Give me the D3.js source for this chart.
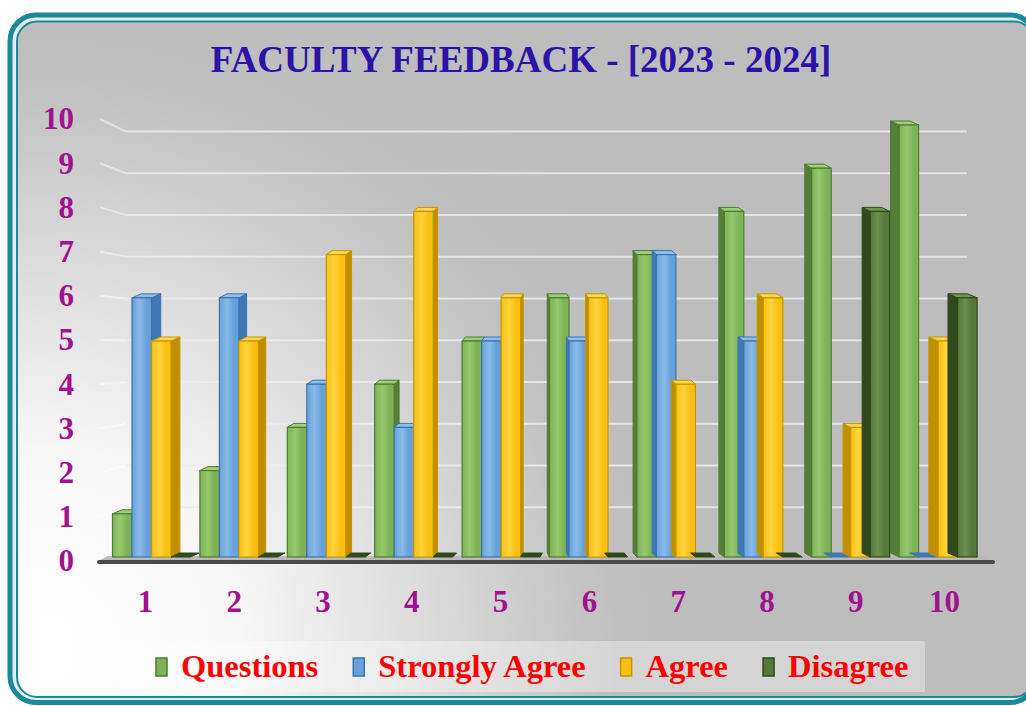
<!DOCTYPE html>
<html>
<head>
<meta charset="utf-8">
<script src="https://cdn.jsdelivr.net/npm/d3@7"></script>
<style>
  body { margin: 0; background: #ffffff; }
  svg { display: block; }
  .aText { font-family: "Liberation Serif", "Times New Roman", serif; font-weight: bold; }
</style>
</head>
<body>
<div id="chart"></div>
<script>
// chart data
var categories = ["1", "2", "3", "4", "5", "6", "7", "8", "9", "10"];
var seriesNames = ["Questions", "Strongly Agree", "Agree", "Disagree"];
var questions = [1, 2, 3, 4, 5, 6, 7, 8, 9, 10];
var stronglyAgree = [6, 6, 4, 3, 5, 5, 7, 5, 0, 0];
var agree = [5, 5, 7, 8, 6, 6, 4, 6, 3, 5];
var disagree = [0, 0, 0, 0, 0, 0, 0, 0, 8, 6];
var yTicks = [0, 1, 2, 3, 4, 5, 6, 7, 8, 9, 10];

var seriesValues = [questions, stronglyAgree, agree, disagree];

// colours per series: front, light, side, top, stroke
var colors = [
  { front: "#7db356", light: "#97c96f", side: "#557f38", top: "#9fcf78", stroke: "#4f7a32" },
  { front: "#66a1da", light: "#8abbe8", side: "#3f78b5", top: "#90bfea", stroke: "#3a73b0" },
  { front: "#f8c012", light: "#ffd43d", side: "#c08e00", top: "#ffd650", stroke: "#c39700" },
  { front: "#56793a", light: "#6a8e4c", side: "#30491d", top: "#6f9450", stroke: "#2e471c" }
];

var width = 1026;
var height = 706;

var svg = d3
  .select("#chart")
  .append("svg")
  .attr("width", width)
  .attr("height", height);

var defs = svg.append("defs");

// background gradient, white in the lower left
var bg = defs.append("radialGradient")
  .attr("id", "bg")
  .attr("gradientUnits", "userSpaceOnUse")
  .attr("cx", 40).attr("cy", 650).attr("r", 720);
bg.append("stop").attr("offset", 0).attr("stop-color", "#ffffff");
bg.append("stop").attr("offset", 0.28).attr("stop-color", "#f7f7f7");
bg.append("stop").attr("offset", 0.8).attr("stop-color", "#bfbfbf");
bg.append("stop").attr("offset", 1).attr("stop-color", "#bdbdbd");

// front face gradients
colors.forEach(function(c, i) {
  var g = defs.append("linearGradient")
    .attr("id", "front" + i)
    .attr("x1", 0).attr("x2", 1).attr("y1", 0).attr("y2", 0);
  g.append("stop").attr("offset", 0).attr("stop-color", c.front);
  g.append("stop").attr("offset", 0.4).attr("stop-color", c.light);
  g.append("stop").attr("offset", 0.75).attr("stop-color", c.front);
  g.append("stop").attr("offset", 1).attr("stop-color", c.front);
});

// frame, its right side runs past the picture edge
svg.append("rect")
  .attr("x", 10).attr("y", 15)
  .attr("width", 1026).attr("height", 687.5)
  .attr("rx", 26)
  .attr("fill", "#e4eef0")
  .attr("stroke", "#1a8a9b")
  .attr("stroke-width", 5);

svg.append("rect")
  .attr("x", 17).attr("y", 21.5)
  .attr("width", 1017).attr("height", 675.5)
  .attr("rx", 20)
  .attr("fill", "url(#bg)")
  .attr("stroke", "#1a8a9b")
  .attr("stroke-width", 2);

// title
svg.append("text")
  .attr("class", "aText")
  .attr("x", 521)
  .attr("y", 72)
  .attr("text-anchor", "middle")
  .attr("font-size", 37)
  .attr("fill", "#2c12a6")
  .text("FACULTY FEEDBACK - [2023 - 2024]");

// scales
var xBars = d3.scaleBand().domain(categories).range([107.8, 981.8]);
var xSub = d3.scaleBand().domain(seriesNames).range([-39, 39]);
var xLabels = d3.scalePoint().domain(categories).range([145, 944]);

var yBar = d3.scaleLinear().domain([0, 10]).range([557, 125]);
var yBack = d3.scaleLinear().domain([0, 10]).range([549, 131.5]);
var yLabel = d3.scaleLinear().domain([0, 10]).range([561, 119]);

var wallLeft = 100;
var backLeft = 126;
var backRight = 967;
var floorRight = 993;
var centerX = (xBars.range()[0] + xBars.range()[1]) / 2;

// gridlines on the back wall and side wall
var grid = svg.append("g").attr("class", "grid");
grid.selectAll("line.side")
  .data(yTicks.slice(1))
  .enter()
  .append("line")
  .attr("class", "side")
  .attr("x1", wallLeft).attr("y1", function(d) { return yLabel(d); })
  .attr("x2", backLeft).attr("y2", function(d) { return yBack(d); })
  .attr("stroke", "#ffffff")
  .attr("stroke-opacity", 0.45)
  .attr("stroke-width", 2);

grid.selectAll("line.back")
  .data(yTicks.slice(1))
  .enter()
  .append("line")
  .attr("class", "back")
  .attr("x1", backLeft).attr("y1", function(d) { return yBack(d); })
  .attr("x2", backRight).attr("y2", function(d) { return yBack(d); })
  .attr("stroke", "#ececec")
  .attr("stroke-opacity", 0.85)
  .attr("stroke-width", 2);

// floor
var floorTop = yBar(0) - 1;
var floorBot = yLabel(0);
svg.append("polygon")
  .attr("points", [
    [wallLeft + 8, floorTop], [floorRight - 6, floorTop],
    [floorRight, floorBot], [wallLeft - 2, floorBot]
  ].join(" "))
  .attr("fill", "#b9b9b9");

svg.append("line")
  .attr("x1", wallLeft - 1).attr("y1", floorBot + 1)
  .attr("x2", floorRight).attr("y2", floorBot + 1)
  .attr("stroke", "#4a4a4a")
  .attr("stroke-width", 4)
  .attr("stroke-linecap", "round");

// bars, drawn left to right so neighbours overlap like the original
var depth = 4;
var barW = xSub.bandwidth();
var bars = svg.append("g").attr("class", "bars");

categories.forEach(function(cat, ci) {
  seriesNames.forEach(function(name, si) {
    var v = seriesValues[si][ci];
    var x0 = xBars(cat) + xBars.bandwidth() / 2 + xSub(name);
    var yTop = yBar(v);
    var yBase = yBar(0);
    var mid = x0 + barW / 2;
    // side width grows away from the centre
    var s = (2 + Math.abs(centerX - mid) * 0.018) * (mid < centerX ? 1 : -1);
    var c = colors[si];
    var g = bars.append("g");

    var edge = s > 0 ? x0 + barW : x0;
    if (v > 0) {
      g.append("polygon")
        .attr("points", [
          [edge, yTop], [edge + s, yTop - depth],
          [edge + s, yBase - depth], [edge, yBase]
        ].join(" "))
        .attr("fill", c.side)
        .attr("stroke", c.stroke)
        .attr("stroke-width", 1);
    }

    g.append("polygon")
      .attr("points", [
        [x0, yTop], [x0 + barW, yTop],
        [x0 + barW + s, yTop - depth], [x0 + s, yTop - depth]
      ].join(" "))
      .attr("fill", v > 0 ? c.top : c.side)
      .attr("stroke", c.stroke)
      .attr("stroke-width", 1);

    if (v > 0) {
      g.append("rect")
        .attr("x", x0)
        .attr("y", yTop)
        .attr("width", barW)
        .attr("height", yBase - yTop)
        .attr("fill", "url(#front" + si + ")")
        .attr("stroke", c.stroke)
        .attr("stroke-width", 1.2);
    }
  });
});

// y axis labels
var yAxis = d3.axisLeft(yLabel).tickValues(yTicks).tickSize(0).tickPadding(0);
var yG = svg.append("g")
  .attr("transform", "translate(74,0)")
  .call(yAxis);
yG.select(".domain").remove();
yG.selectAll("text")
  .attr("class", "aText")
  .attr("font-size", 31)
  .attr("fill", "#a0128e");

// x axis labels
var xAxis = d3.axisBottom(xLabels).tickSize(0).tickPadding(0);
var xG = svg.append("g")
  .attr("transform", "translate(0,590)")
  .call(xAxis);
xG.select(".domain").remove();
xG.selectAll("text")
  .attr("class", "aText")
  .attr("font-size", 31)
  .attr("fill", "#a0128e");

// legend
svg.append("rect")
  .attr("x", 120).attr("y", 641)
  .attr("width", 805).attr("height", 51)
  .attr("fill", "#ffffff")
  .attr("fill-opacity", 0.35);

var legend = svg.append("g");
var items = legend.selectAll("g")
  .data(seriesNames)
  .enter()
  .append("g");

items.append("rect")
  .attr("y", 658)
  .attr("width", 11)
  .attr("height", 18)
  .attr("fill", function(d, i) { return colors[i].front; })
  .attr("stroke", function(d, i) { return colors[i].stroke; })
  .attr("stroke-width", 1.5);

items.append("text")
  .attr("class", "aText")
  .attr("x", 25)
  .attr("y", 677)
  .attr("font-size", 32.5)
  .attr("fill", "#ff0000")
  .text(function(d) { return d; });

// lay the legend items out in a row starting under the first category
var pos = 156;
items.each(function() {
  var item = d3.select(this);
  var tw = item.select("text").node().getComputedTextLength();
  item.attr("transform", "translate(" + pos + ",0)");
  pos += 25 + tw + 35;
});
</script>
</body>
</html>
